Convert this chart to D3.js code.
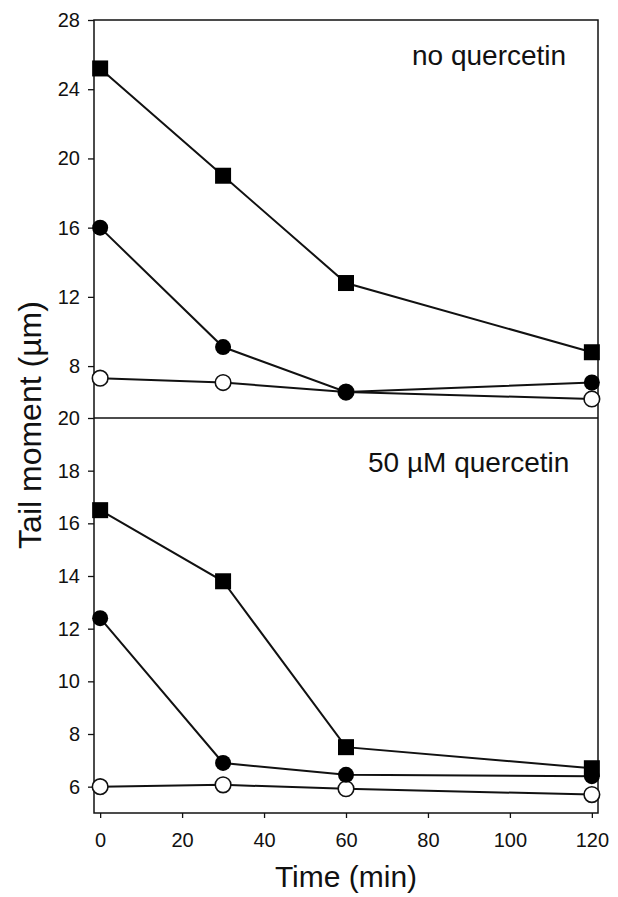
<!DOCTYPE html>
<html>
<head>
<meta charset="utf-8">
<script src="https://cdn.jsdelivr.net/npm/d3@7"></script>
<style>
  body { margin: 0; background: #fff; }
  svg { display: block; font-family: "Liberation Sans", Arial, sans-serif; }
</style>
</head>
<body>
<svg id="svg"></svg>
<script>
// time points (min)
const times = [0, 30, 60, 120];

// top panel: no quercetin
const topSquares = [25.2, 19.0, 12.8, 8.8];
const topFilled = [16.0, 9.1, 6.5, 7.05];
const topOpen = [7.3, 7.05, 6.5, 6.1];

// bottom panel: 50 µM quercetin
const botSquares = [16.5, 13.8, 7.5, 6.7];
const botFilled = [12.4, 6.9, 6.45, 6.4];
const botOpen = [6.0, 6.07, 5.92, 5.7];

const xTicks = [0, 20, 40, 60, 80, 100, 120];
const topTicks = [8, 12, 16, 20, 24, 28];
const botTicks = [6, 8, 10, 12, 14, 16, 18, 20];

const W = 618, H = 897;
const mLeft = 94, mRight = 598, mTop = 20, mMid = 418, mBottom = 813;

const svg = d3.select("#svg").attr("width", W).attr("height", H);

const x = d3.scaleLinear().domain([-1.5, 121.5]).range([mLeft, mRight]);
const yTop = d3.scaleLinear().domain([5, 28]).range([mMid, mTop]);
const yBot = d3.scaleLinear().domain([5, 20]).range([mBottom, mMid]);

// frames
svg.append("rect")
    .attr("x", mLeft).attr("y", mTop)
    .attr("width", mRight - mLeft).attr("height", mBottom - mTop)
    .attr("fill", "none").attr("stroke", "#111").attr("stroke-width", 1.5);
svg.append("line")
    .attr("x1", mLeft).attr("x2", mRight)
    .attr("y1", mMid).attr("y2", mMid)
    .attr("stroke", "#111").attr("stroke-width", 1.5);

// axes
function styleAxis(g) {
    g.select(".domain").remove();
    g.selectAll(".tick line").attr("stroke", "#111").attr("stroke-width", 1.3);
    g.selectAll(".tick text")
        .attr("fill", "#111")
        .style("font-size", "20px");
}

svg.append("g")
    .attr("transform", `translate(${mLeft},0)`)
    .call(d3.axisLeft(yTop).tickValues(topTicks).tickSize(6).tickPadding(8))
    .call(styleAxis);

svg.append("g")
    .attr("transform", `translate(${mLeft},0)`)
    .call(d3.axisLeft(yBot).tickValues(botTicks).tickSize(6).tickPadding(8))
    .call(styleAxis);

svg.append("g")
    .attr("transform", `translate(0,${mBottom})`)
    .call(d3.axisBottom(x).tickValues(xTicks).tickSize(5).tickPadding(18))
    .call(styleAxis)
    .selectAll(".tick text").attr("dy", "0.55em");

// series
function drawPanel(y, squares, filled, open) {
    const line = d3.line().x((d, i) => x(times[i])).y(d => y(d));
    [open, filled, squares].forEach(s => {
        svg.append("path")
            .datum(s)
            .attr("d", line)
            .attr("fill", "none")
            .attr("stroke", "#111")
            .attr("stroke-width", 2);
    });
    svg.append("g").selectAll("circle")
        .data(open).join("circle")
        .attr("cx", (d, i) => x(times[i]))
        .attr("cy", d => y(d))
        .attr("r", 7.8)
        .attr("fill", "#fff")
        .attr("stroke", "#111")
        .attr("stroke-width", 1.6);
    svg.append("g").selectAll("circle")
        .data(filled).join("circle")
        .attr("cx", (d, i) => x(times[i]))
        .attr("cy", d => y(d))
        .attr("r", 8)
        .attr("fill", "#000");
    svg.append("g").selectAll("rect")
        .data(squares).join("rect")
        .attr("x", (d, i) => x(times[i]) - 8)
        .attr("y", d => y(d) - 8)
        .attr("width", 16)
        .attr("height", 16)
        .attr("fill", "#000");
}

drawPanel(yTop, topSquares, topFilled, topOpen);
drawPanel(yBot, botSquares, botFilled, botOpen);

// annotations
svg.append("text")
    .attr("x", 412).attr("y", 65)
    .style("font-size", "28px").attr("fill", "#111")
    .text("no quercetin");
svg.append("text")
    .attr("x", 368).attr("y", 472)
    .style("font-size", "28px").attr("fill", "#111")
    .text("50 µM quercetin");

// axis titles
svg.append("text")
    .attr("transform", "translate(41,425) rotate(-90)")
    .attr("text-anchor", "middle")
    .style("font-size", "32px").attr("fill", "#111")
    .text("Tail moment (µm)");
svg.append("text")
    .attr("x", 346).attr("y", 887)
    .attr("text-anchor", "middle")
    .style("font-size", "30px").attr("fill", "#111")
    .text("Time (min)");
</script>
</body>
</html>
